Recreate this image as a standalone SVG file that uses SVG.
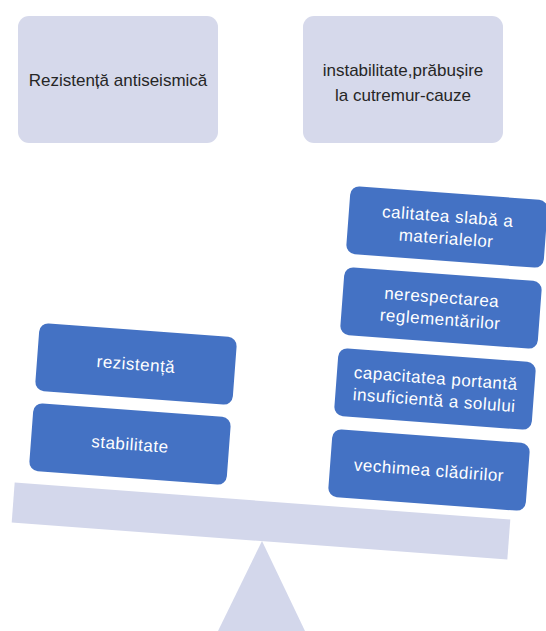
<svg xmlns="http://www.w3.org/2000/svg" width="546" height="631" viewBox="0 0 546 631">
  <style>
    .head { fill: #d6d9eb; }
    .item { fill: #4472c4; }
    .scale { fill: #d3d7eb; }
    .dark { font-family: "Liberation Sans", Arial, sans-serif; font-size: 17px; fill: #262626; text-anchor: middle; }
    .light { font-family: "Liberation Sans", Arial, sans-serif; font-size: 17px; letter-spacing: 0.5px; fill: #ffffff; text-anchor: middle; }
  </style>

  <!-- headings -->
  <g id="head-left">
    <rect class="head" x="18" y="16" width="200" height="127" rx="11"/>
    <text class="dark" x="118" y="86">Rezistență antiseismică</text>
  </g>
  <g id="head-right">
    <rect class="head" x="303" y="16" width="200" height="127" rx="11"/>
    <text class="dark" x="403" y="76">instabilitate,prăbușire</text>
    <text class="dark" x="403" y="101">la cutremur-cauze</text>
  </g>

  <!-- fulcrum and beam -->
  <g id="fulcrum">
    <polygon class="scale" points="262,541 218,631 305,631"/>
  </g>
  <g id="beam">
    <rect class="scale" x="12.5" y="501" width="497" height="40" transform="rotate(4.26 261 521)"/>
  </g>

  <!-- left pan -->
  <g id="rezistenta" transform="rotate(4.26 136 364)">
    <rect class="item" x="37" y="330" width="198" height="68" rx="9"/>
    <text class="light" x="136" y="370">rezistență</text>
  </g>
  <g id="stabilitate" transform="rotate(4.26 130 444)">
    <rect class="item" x="31" y="410" width="198" height="68" rx="9"/>
    <text class="light" x="130" y="450">stabilitate</text>
  </g>

  <!-- right pan -->
  <g id="calitatea" transform="rotate(4.26 447 227)">
    <rect class="item" x="348" y="193" width="198" height="68" rx="9"/>
    <text class="light" x="447" y="222">calitatea slabă a</text>
    <text class="light" x="447" y="244">materialelor</text>
  </g>
  <g id="nerespectarea" transform="rotate(4.26 441 308)">
    <rect class="item" x="342" y="274" width="198" height="68" rx="9"/>
    <text class="light" x="441" y="303">nerespectarea</text>
    <text class="light" x="441" y="325">reglementărilor</text>
  </g>
  <g id="capacitatea" transform="rotate(4.26 435 389)">
    <rect class="item" x="336" y="355" width="198" height="68" rx="9"/>
    <text class="light" x="435" y="384">capacitatea portantă</text>
    <text class="light" x="435" y="406">insuficientă a solului</text>
  </g>
  <g id="vechimea" transform="rotate(4.26 429 470)">
    <rect class="item" x="330" y="436" width="198" height="68" rx="9"/>
    <text class="light" x="429" y="476">vechimea clădirilor</text>
  </g>
</svg>
